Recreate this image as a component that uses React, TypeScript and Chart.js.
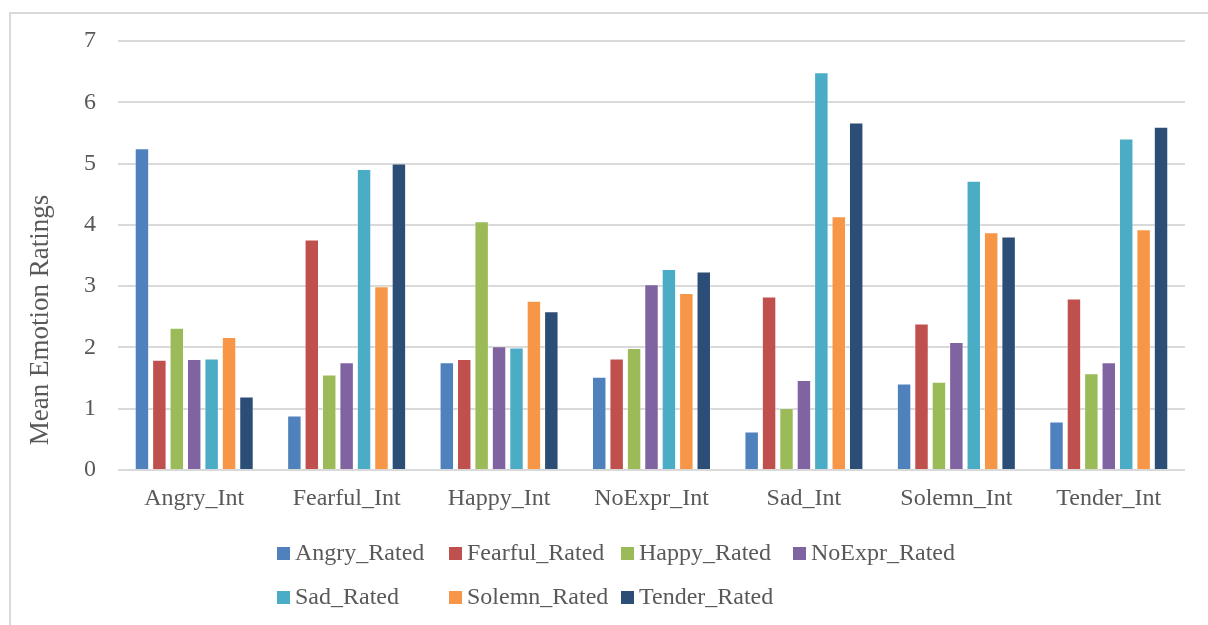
import React, { useEffect, useRef } from "react";
import { Chart, registerables } from "chart.js";

Chart.register(...registerables);

const categories = ["Angry_Int", "Fearful_Int", "Happy_Int", "NoExpr_Int", "Sad_Int", "Solemn_Int", "Tender_Int"];
const seriesNames = ["Angry_Rated", "Fearful_Rated", "Happy_Rated", "NoExpr_Rated", "Sad_Rated", "Solemn_Rated", "Tender_Rated"];
const seriesColors = ["#4F81BD", "#C0504D", "#9BBB59", "#8064A2", "#4BACC6", "#F79646", "#2C4D75"];

const angryRated = [5.25, 0.89, 1.76, 1.52, 0.63, 1.41, 0.79];
const fearfulRated = [1.80, 3.76, 1.81, 1.82, 2.83, 2.39, 2.80];
const happyRated = [2.32, 1.56, 4.06, 1.99, 1.01, 1.44, 1.58];
const noExprRated = [1.81, 1.76, 2.02, 3.03, 1.47, 2.09, 1.76];
const sadRated = [1.82, 4.91, 2.00, 3.28, 6.49, 4.72, 5.41];
const solemnRated = [2.17, 3.00, 2.76, 2.89, 4.14, 3.88, 3.93];
const tenderRated = [1.20, 5.00, 2.59, 3.24, 5.67, 3.81, 5.60];

const seriesValues = [angryRated, fearfulRated, happyRated, noExprRated, sadRated, solemnRated, tenderRated];
const yTitle = "Mean Emotion Ratings";

const FONT = "'Liberation Serif', serif";
const TEXT = "#595959";
const GRID = "#d9d9d9";
const W = 1208;
const H = 625;

const decorPlugin = {
  id: "decor",
  beforeDraw(chart: any) {
    const ctx = chart.ctx;
    ctx.save();
    ctx.strokeStyle = GRID;
    ctx.lineWidth = 2;
    ctx.beginPath();
    ctx.moveTo(10, chart.height + 5);
    ctx.lineTo(10, 13);
    ctx.lineTo(chart.width + 5, 13);
    ctx.stroke();
    ctx.restore();
  },
  afterDraw(chart: any) {
    const ctx = chart.ctx;
    ctx.save();
    ctx.fillStyle = TEXT;
    ctx.font = `27px ${FONT}`;
    ctx.textAlign = "center";
    ctx.textBaseline = "middle";
    ctx.translate(41, 320);
    ctx.rotate(-Math.PI / 2);
    ctx.fillText(yTitle, 0, 0);
    ctx.restore();

    ctx.save();
    ctx.font = `24px ${FONT}`;
    ctx.textBaseline = "middle";
    ctx.textAlign = "left";
    chart.data.datasets.forEach((ds: any, i: number) => {
      const col = i % 4;
      const row = Math.floor(i / 4);
      const bx = 277 + col * 172;
      const cy = 553 + row * 44;
      ctx.fillStyle = ds.backgroundColor;
      ctx.fillRect(bx, cy - 6, 13, 13);
      ctx.fillStyle = TEXT;
      ctx.fillText(ds.label, bx + 18, cy + 1);
    });
    ctx.restore();
  },
};

export default function App() {
  const ref = useRef<HTMLCanvasElement | null>(null);
  useEffect(() => {
    if (!ref.current) return;
    const chart = new Chart(ref.current, {
      type: "bar",
      data: {
        labels: categories,
        datasets: seriesNames.map((name, i) => ({
          label: name,
          data: seriesValues[i],
          backgroundColor: seriesColors[i],
          borderColor: "rgba(255,255,255,0.35)",
          borderWidth: 1,
          categoryPercentage: 0.8,
          barPercentage: 0.83,
        })),
      },
      options: {
        animation: false,
        responsive: false,
        maintainAspectRatio: false,
        layout: { padding: { top: 41, right: 23, bottom: 108, left: 0 } },
        plugins: {
          legend: { display: false },
          tooltip: { enabled: false },
        },
        scales: {
          x: {
            grid: { display: false, drawTicks: false },
            border: { display: false },
            ticks: { color: TEXT, font: { family: FONT, size: 24 }, padding: 14, maxRotation: 0 },
            afterFit: (s: any) => { s.height = 47; },
          },
          y: {
            min: 0,
            max: 7,
            ticks: { stepSize: 1, color: TEXT, font: { family: FONT, size: 24 }, padding: 22 },
            grid: { color: GRID, lineWidth: 2, drawTicks: false },
            border: { display: false },
            afterFit: (s: any) => { s.width = 118; },
          },
        },
      },
      plugins: [decorPlugin],
    });
    return () => chart.destroy();
  }, []);
  return (
    <div style={{ position: "fixed", left: 0, top: 0, width: W, height: H, overflow: "hidden", background: "#fff" }}>
      <canvas ref={ref} width={W} height={H} style={{ display: "block", width: W, height: H }} />
    </div>
  );
}
